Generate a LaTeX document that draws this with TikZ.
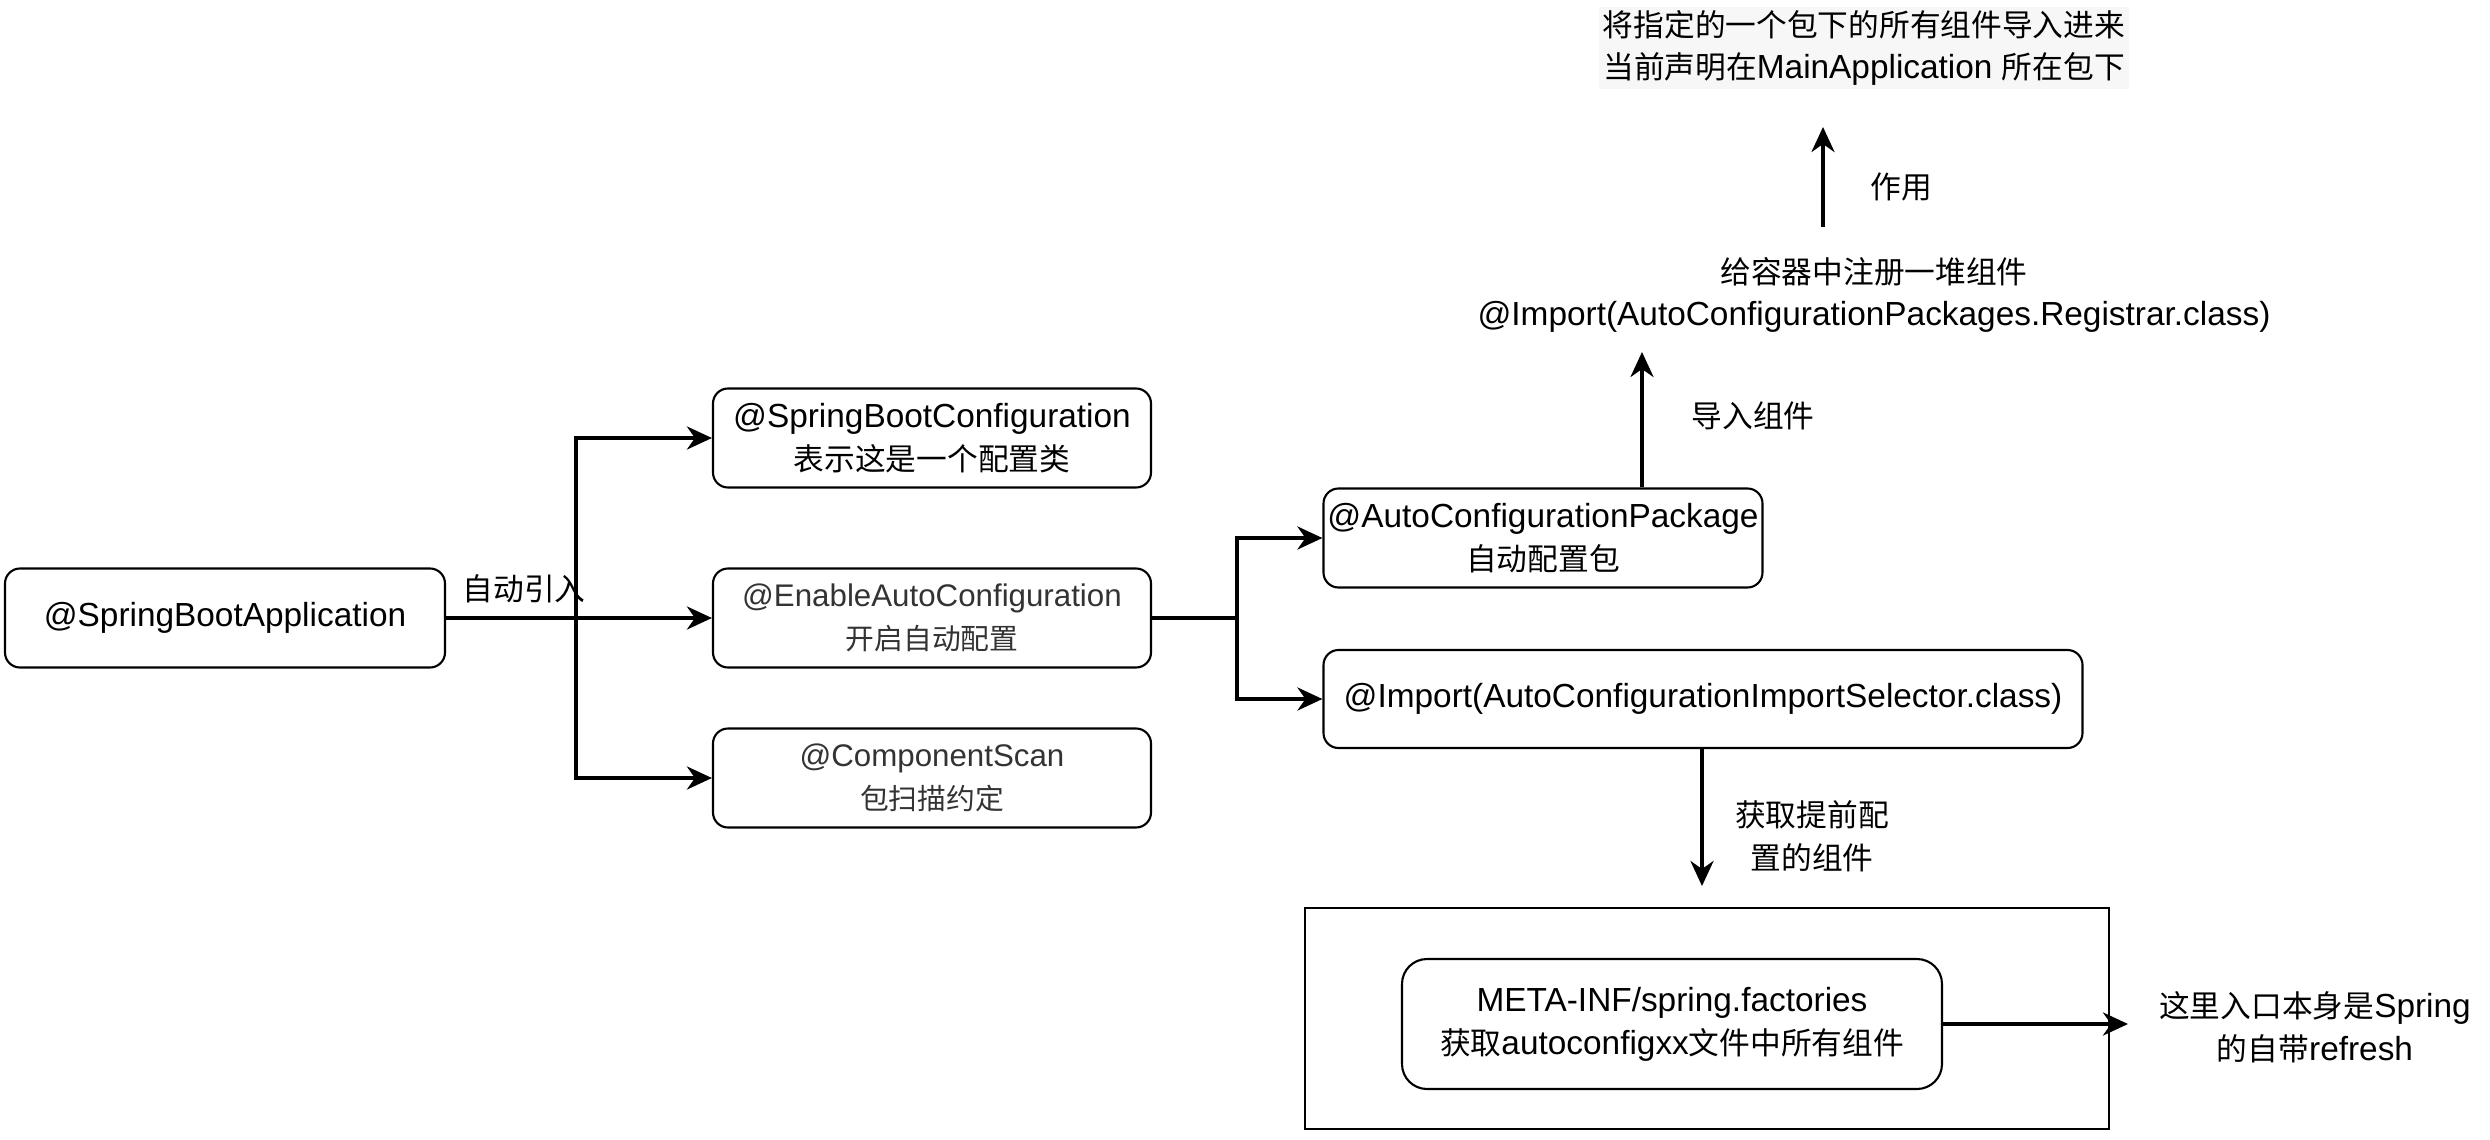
\documentclass[tikz,border=0pt]{standalone}
\usepackage{fontspec}
\setmainfont{Liberation Sans}
\newfontfamily\cjk[Scale=0.92]{Noto Sans CJK SC}
\usetikzlibrary{arrows.meta}

\begin{document}
\begin{tikzpicture}[x=1cm,y=1cm,
  box/.style={draw,line width=0.6pt,rounded corners=1.5mm,align=center,inner sep=0pt,font=\fontsize{9.5}{12.2}\selectfont},
  small/.style={font=\fontsize{8.9}{12.2}\selectfont,text=black!80},
  txt/.style={align=center,inner sep=0pt,font=\fontsize{9.5}{12.2}\selectfont},
  wire/.style={line width=1.1pt},
  link/.style={wire,-{Stealth[length=2.5mm,width=2.3mm,inset=0.8mm]}}]
\useasboundingbox (0,0) rectangle (24.9,-11.4);

% left column
\node[box,minimum width=4.4cm,minimum height=0.99cm] (app) at (2.25,-6.18) {@SpringBootApplication};
\node[box,minimum width=4.38cm,minimum height=0.99cm] (cfg) at (9.32,-4.38) {@SpringBootConfiguration\\{\cjk 表示这是一个配置类}};
\node[box,small,minimum width=4.38cm,minimum height=0.99cm] (enable) at (9.32,-6.18) {@EnableAutoConfiguration\\{\cjk 开启自动配置}};
\node[box,small,minimum width=4.38cm,minimum height=0.99cm] (scan) at (9.32,-7.78) {@ComponentScan\\{\cjk 包扫描约定}};

\coordinate (split) at (5.76,-6.18);
\draw[link] (app.east) -- (enable.west);
\draw[link] (split) |- (cfg.west);
\draw[link] (split) |- (scan.west);
\node[txt] (auto) at (5.24,-5.89) {\cjk 自动引入};

% right part
\node[box,minimum width=4.39cm,minimum height=0.99cm] (pkg) at (15.43,-5.38) {@AutoConfigurationPackage\\{\cjk 自动配置包}};
\node[box,minimum width=7.59cm,minimum height=0.98cm] (imp) at (17.03,-6.99) {@Import(AutoConfigurationImportSelector.class)};

\coordinate (knee) at (12.37,-6.18);
\draw[wire] (enable.east) -- (knee);
\draw[link] (knee) |- (pkg.west);
\draw[link] (knee) |- (imp.west);

\node[txt] (reg) at (18.74,-2.95) {{\cjk 给容器中注册一堆组件}\\@Import(AutoConfigurationPackages.Registrar.class)};
\node[txt,fill=black!3,inner sep=1pt] (note) at (18.64,-0.48) {{\cjk 将指定的一个包下的所有组件导入进来}\\{\cjk 当前声明在}MainApplication {\cjk 所在包下}};

\coordinate (regin) at (16.42,-3.52);
\coordinate (regout) at (18.23,-2.27);
\coordinate (notein) at (18.23,-1.27);
\draw[link] (pkg.north -| regin) -- (regin);
\node[txt] (lbimport) at (17.53,-4.16) {\cjk 导入组件};
\draw[link] (regout) -- (notein);
\node[txt] (lbuse) at (19.01,-1.87) {\cjk 作用};

% factories
\draw[line width=0.6pt] (13.05,-9.08) rectangle (21.09,-11.29);
\node[box,minimum width=5.4cm,minimum height=1.3cm,rounded corners=2.5mm] (fac) at (16.72,-10.24) {META-INF/spring.factories\\{\cjk 获取}autoconfigxx{\cjk 文件中所有组件}};
\coordinate (facin) at (17.02,-8.86);
\draw[link] (imp.south -| facin) -- (facin);
\node[txt] (lbget) at (18.12,-8.36) {{\cjk 获取提前配}\\{\cjk 置的组件}};

\node[txt] (refresh) at (23.15,-10.27) {{\cjk 这里入口本身是}Spring\\{\cjk 的自带}refresh};
\coordinate (refin) at (21.28,-10.24);
\draw[link] (fac.east) -- (refin);
\end{tikzpicture}
\end{document}
